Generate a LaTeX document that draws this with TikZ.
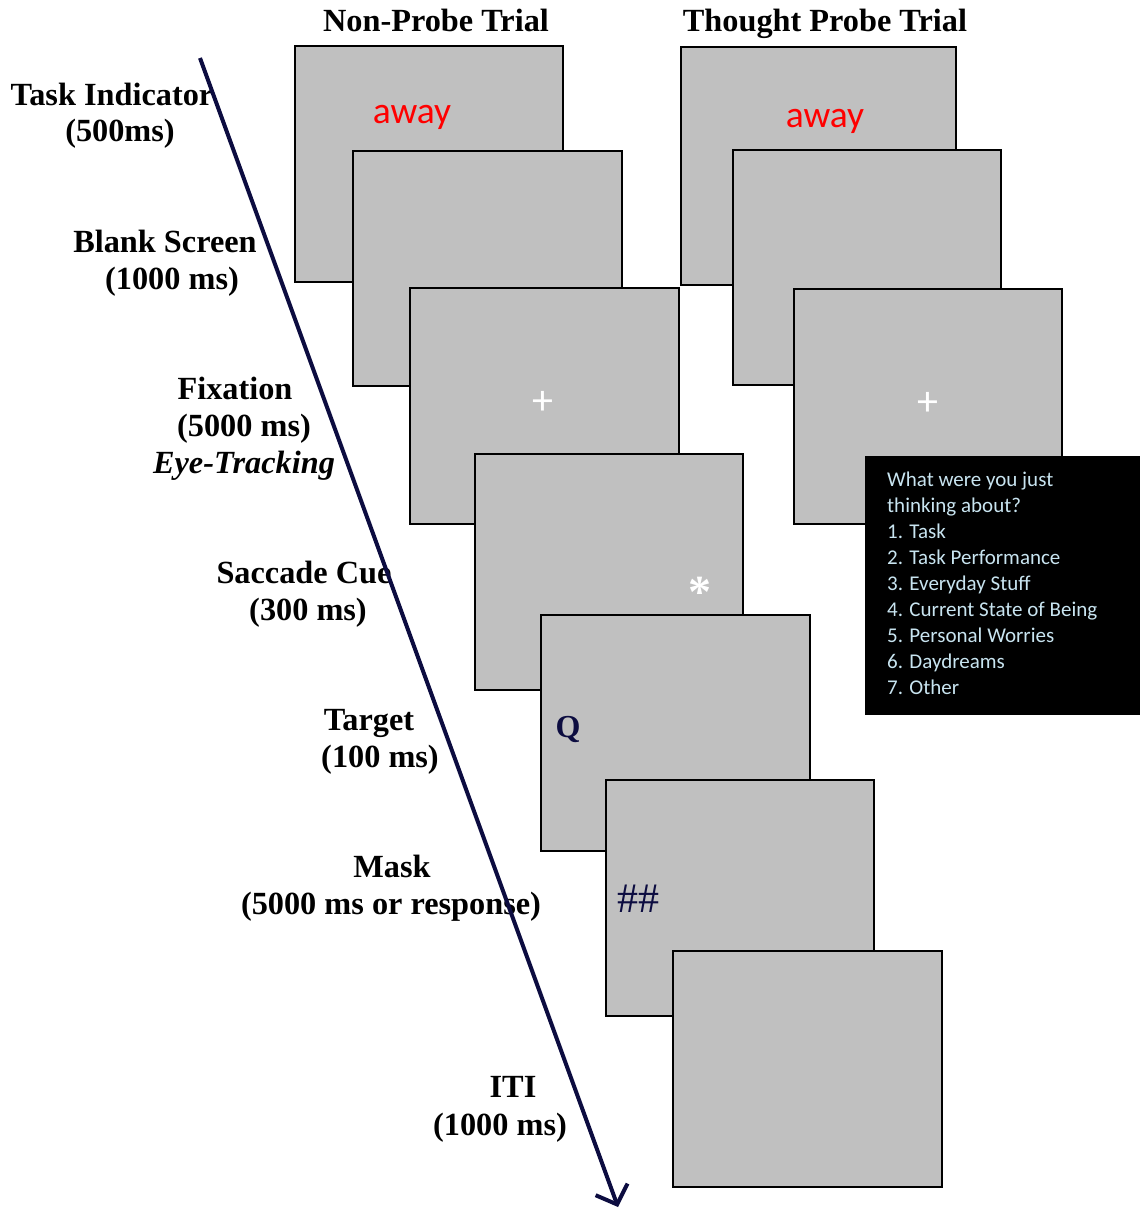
\documentclass[tikz,border=0pt]{standalone}
\usepackage{fontspec}
\setmainfont{Liberation Serif}
\newfontfamily\calfont{Carlito}
\usetikzlibrary{arrows.meta}
\definecolor{scr}{RGB}{192,192,192}
\definecolor{navy}{RGB}{12,12,64}
\definecolor{qtxt}{RGB}{200,228,240}
\definecolor{awayred}{RGB}{255,0,0}
\begin{document}
\begin{tikzpicture}[x=1pt,y=-1pt,
  screen/.style={draw=black, fill=scr, line width=2pt, anchor=north west, inner sep=0pt},
  lab/.style={font=\fontsize{32.3}{36}\selectfont\bfseries, anchor=base, inner sep=0pt},
  awaytxt/.style={font=\calfont\fontsize{37.5}{40}\selectfont, text=awayred, anchor=base, inner sep=0pt},
  sym/.style={text=white, inner sep=0pt}
]
\useasboundingbox (0,0) rectangle (1140,1213);
\fill[white] (0,0) rectangle (1140,1213);

% titles
\node[lab] (t1) at (436,31) {Non-Probe Trial};
\node[lab] (t2) at (825,31) {Thought Probe Trial};

% non-probe screens
\node[screen, minimum width=268, minimum height=236] (n1) at (294,45) {};
\node[awaytxt] (a1) at (412,123) {away};
\node[screen, minimum width=269, minimum height=235] (n2) at (352,150) {};
\node[screen, minimum width=269, minimum height=236] (n3) at (409,287) {};
\node[sym, font=\calfont\fontsize{42}{42}\selectfont] (p1) at (543,403) {+};
\node[screen, minimum width=268, minimum height=236] (n4) at (474,453) {};
\node[sym, font=\fontsize{46}{46}\selectfont\bfseries] (st) at (700,592) {*};
\node[screen, minimum width=269, minimum height=236] (n5) at (540,614) {};
\node[font=\fontsize{32}{36}\selectfont\bfseries, text=navy, anchor=base, inner sep=0pt] (q) at (568,737) {Q};
\node[screen, minimum width=268, minimum height=236] (n6) at (605,779) {};
\node[font=\fontsize{42}{42}\selectfont, text=navy, anchor=base, inner sep=0pt] (hh) at (638,912) {\#\#};
\node[screen, minimum width=269, minimum height=236] (n7) at (672,950) {};

% probe screens
\node[screen, minimum width=275, minimum height=238] (r1) at (680,46) {};
\node[awaytxt] (a2) at (825,127) {away};
\node[screen, minimum width=268, minimum height=235] (r2) at (732,149) {};
\node[screen, minimum width=268, minimum height=235] (r3) at (793,288) {};
\node[sym, font=\calfont\fontsize{42}{42}\selectfont] (p2) at (928,404) {+};
\node[draw=black, fill=black, anchor=north west, minimum width=275, minimum height=258, inner sep=0pt] (qb) at (865,456) {};
\node[anchor=north west, text=qtxt, align=left, inner sep=0pt,
      font=\calfont\fontsize{21}{26}\selectfont] (qt) at (887,472)
  {What were you just\\thinking about?\\1. Task\\2. Task Performance\\3. Everyday Stuff\\4. Current State of Being\\5. Personal Worries\\6. Daydreams\\7. Other};

% labels
\node[lab] (l1a) at (112,105) {Task Indicator};
\node[lab] (l1b) at (120,141) {(500ms)};
\node[lab] (l2a) at (165,252) {Blank Screen};
\node[lab] (l2b) at (172,289) {(1000 ms)};
\node[lab] (l3a) at (235,399) {Fixation};
\node[lab] (l3b) at (244,436) {(5000 ms)};
\node[lab, font=\fontsize{32.3}{36}\selectfont\bfseries\itshape] (l3c) at (244,473) {Eye-Tracking};
\node[lab] (l4a) at (304,583) {Saccade Cue};
\node[lab] (l4b) at (308,620) {(300 ms)};
\node[lab] (l5a) at (369,730) {Target};
\node[lab] (l5b) at (380,767) {(100 ms)};
\node[lab] (l6a) at (392,877) {Mask};
\node[lab] (l6b) at (391,914) {(5000 ms or response)};
\node[lab] (l7a) at (513,1097) {ITI};
\node[lab] (l7b) at (500,1135) {(1000 ms)};

% time arrow
\coordinate (ts) at (200,58);
\coordinate (te) at (618,1207);
\draw[navy, line width=4pt, -{Straight Barb[length=16pt, width=34pt, line width=4pt]}] (ts) -- (te);
\end{tikzpicture}
\end{document}
